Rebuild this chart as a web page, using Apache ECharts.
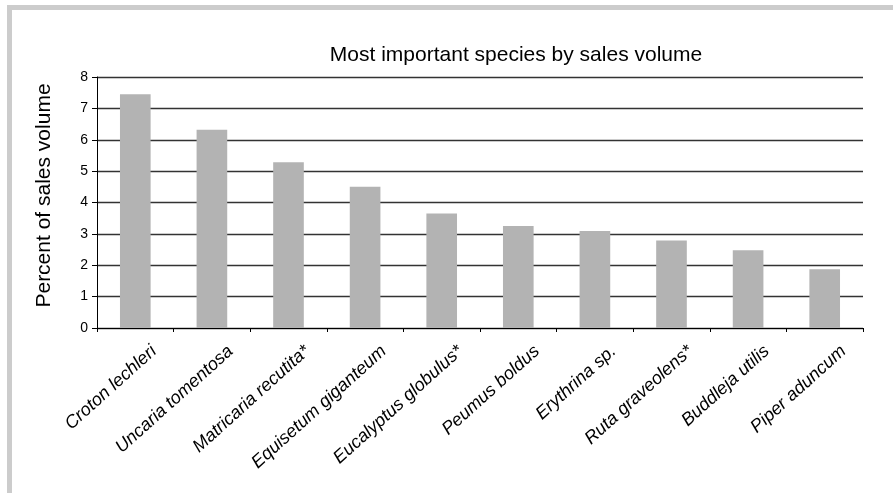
<!DOCTYPE html>
<html>
<head>
<meta charset="utf-8">
<script src="https://cdn.jsdelivr.net/npm/echarts@6/dist/echarts.min.js"></script>
<style>
  html, body { margin: 0; padding: 0; background: #fff; }
  #frame { position: absolute; left: 7px; top: 5px; width: 886px; height: 488px;
           border-top: 5px solid #cccccc; border-left: 5px solid #cccccc; box-sizing: border-box; }
  #chart { position: absolute; left: 0; top: 0; width: 893px; height: 493px; }
</style>
</head>
<body>
<div id="frame"></div>
<div id="chart"></div>
<script>
const categories = [
  "Croton lechleri", "Uncaria tomentosa", "Matricaria recutita*", "Equisetum giganteum",
  "Eucalyptus globulus*", "Peumus boldus", "Erythrina sp.", "Ruta graveolens*",
  "Buddleja utilis", "Piper aduncum"
];
const salesPercent = [7.45, 6.32, 5.28, 4.5, 3.65, 3.25, 3.09, 2.79, 2.48, 1.87];
const yTicks = [0, 1, 2, 3, 4, 5, 6, 7, 8];

const chart = echarts.init(document.getElementById('chart'), null, { renderer: 'canvas' });
chart.setOption({
  backgroundColor: 'transparent',
  animation: false,
  title: {
    text: 'Most important species by sales volume',
    left: 511, top: 40, textAlign: 'center',
    textStyle: { fontFamily: 'Liberation Sans', fontSize: 21, fontWeight: 'normal', color: '#000' }
  },
  grid: { left: 97, right: 30, top: 77, bottom: 165 },
  xAxis: {
    type: 'category',
    data: categories,
    boundaryGap: true,
    axisLine: { show: true, lineStyle: { color: '#000', width: 1 } },
    axisTick: { show: true, length: 4, lineStyle: { color: '#000' } },
    axisLabel: {
      interval: 0, rotate: 42, margin: 0,
      formatter: function (v) { return '{gap| }\n{t|' + v + '}'; },
      rich: {
        gap: { lineHeight: 56, fontSize: 18 },
        t: { fontFamily: 'Liberation Sans', fontStyle: 'italic', fontSize: 18, lineHeight: 20, color: '#000' }
      },
      fontFamily: 'Liberation Sans', fontStyle: 'italic', fontSize: 18, color: '#000'
    },
    splitLine: { show: false }
  },
  yAxis: {
    type: 'value',
    min: yTicks[0], max: yTicks[yTicks.length - 1], interval: 1,
    name: 'Percent of sales volume',
    nameLocation: 'middle', nameGap: 42,
    nameTextStyle: { fontFamily: 'Liberation Sans', fontSize: 21, color: '#000', padding: [0, 0, 0, 14] },
    axisLine: { show: true, lineStyle: { color: '#000', width: 1 } },
    axisTick: { show: true, length: 5, lineStyle: { color: '#000' } },
    axisLabel: { margin: 9, fontFamily: 'Liberation Sans', fontSize: 14, color: '#000' },
    splitLine: { show: true, lineStyle: { color: '#333', width: 1.3 } }
  },
  series: [{
    type: 'bar',
    data: salesPercent,
    barWidth: '40%',
    itemStyle: { color: '#b3b3b3' }
  }]
});
</script>
</body>
</html>
